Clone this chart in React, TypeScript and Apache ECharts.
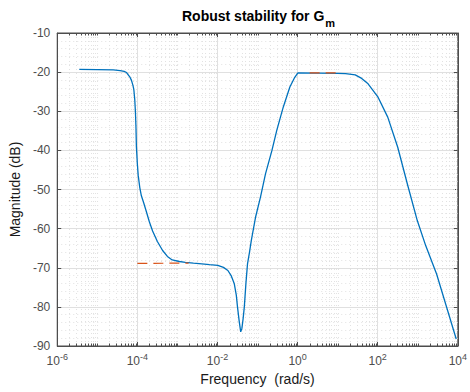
import React, { useEffect, useRef } from 'react';
import * as echarts from 'echarts';

// Frequency (rad/s) and magnitude (dB) of the robust-stability curve
const freq = [
  3.55e-6, 1e-5, 2.51e-5, 3.72e-5, 4.68e-5, 5.37e-5, 6.46e-5, 7.13e-5, 7.76e-5, 8.17e-5,
  8.61e-5, 8.95e-5, 9.23e-5, 9.46e-5, 1.0e-4, 1.05e-4, 1.15e-4, 1.26e-4, 1.45e-4, 1.66e-4,
  2.0e-4, 2.4e-4, 3.16e-4, 4.27e-4, 5.62e-4, 7.41e-4, 1.12e-3, 1.58e-3, 2.51e-3, 4.07e-3,
  6.31e-3, 1.02e-2, 1.41e-2, 1.82e-2, 2.19e-2, 2.63e-2, 2.95e-2, 3.16e-2, 3.47e-2, 3.8e-2,
  4.07e-2, 4.37e-2, 4.68e-2, 5.13e-2, 5.62e-2, 6.31e-2, 7.0e-2, 8.91e-2, 0.118, 0.158,
  0.229, 0.302, 0.44, 0.641, 0.832, 1.02, 3.16, 10, 15.8, 27.5,
  39.8, 57.5, 102, 178, 316, 550, 977, 1585, 2951, 9120,
];
const magDb = [
  -19.3, -19.35, -19.45, -19.6, -19.8, -20.1, -21.2, -22.1, -23.4, -24.5,
  -27, -30.2, -34, -39, -43.5, -46.4, -49.5, -51.6, -53.5, -55.5,
  -58.3, -60.6, -63.3, -65.6, -67.1, -68.0, -68.4, -68.6, -68.8, -69.0,
  -69.2, -69.4, -69.9, -70.7, -72.0, -74.1, -77, -80, -83.5, -86.4,
  -85.5, -83, -80, -74, -69, -66, -63, -57.1, -52, -46,
  -40, -34.9, -28.9, -23.8, -21.5, -20.2, -20.25, -20.3, -20.4, -20.7,
  -21.6, -23, -26.4, -31.5, -39.2, -48.6, -58, -64.4, -71.6, -88.2,
];
// Dashed bound (mostly hidden under the curve)
const boundLowFreq = [1e-4, 1.9e-3];
const boundLowDb = [-68.9, -68.8];
const boundHighFreq = [2.0, 10.7];
const boundHighDb = [-20.2, -20.2];

const xMin = 1e-6;
const xMax = 1e4;
const yMin = -90;
const yMax = -10;
const yStep = 10;

const titleMain = 'Robust stability for G';
const titleSub = 'm';
const xName = 'Frequency  (rad/s)';
const yName = 'Magnitude (dB)';

const FONT = '"Liberation Sans", Arial, Helvetica, sans-serif';
const AXIS = '#4d4d4d';
const GRID = '#e0e0e0';
const MINOR = '#e2e2e2';
const BLUE = '#0072BD';
const ORANGE = '#D95319';

// minor x-grid positions: 2..9 x 10^k plus odd decades (labels only every 2 decades)
const minorX: number[] = [];
for (let k = -6; k < 4; k++) {
  for (let m = 1; m <= 9; m++) {
    if (m === 1 && k % 2 === 0) continue;
    minorX.push(m * Math.pow(10, k));
  }
}

export default function App() {
  const ref = useRef<HTMLDivElement>(null);
  useEffect(() => {
    document.body.style.margin = '0';
    const chart = echarts.init(ref.current!, undefined, { renderer: 'svg' });
    const pairs = (xs: number[], ys: number[]) => xs.map((x, i) => [x, ys[i]]);
    const xLabel = (v: number) => {
      const e = Math.round(Math.log10(v));
      return `{b|10}{s|${e}}`;
    };
    const xAxisBase = {
      type: 'log' as const,
      logBase: 10,
      min: xMin,
      max: xMax,
      interval: 2,
    };
    chart.setOption({
      animation: false,
      textStyle: { fontFamily: FONT },
      title: {
        text: `{a|${titleMain}}{b|${titleSub}}`,
        left: 177,
        top: 4,
        textStyle: {
          rich: {
            a: { fontSize: 14, fontWeight: 'bold', color: '#000', fontFamily: FONT, verticalAlign: 'top' },
            b: { fontSize: 11, fontWeight: 'bold', color: '#000', fontFamily: FONT, verticalAlign: 'top', padding: [8, 0, 0, 1] },
          },
        },
      },
      grid: { left: 52, right: 8, top: 33, bottom: 46, show: true, borderColor: AXIS, borderWidth: 1, backgroundColor: '#fff' },
      xAxis: [
        {
          ...xAxisBase,
          position: 'bottom',
          name: xName,
          nameLocation: 'middle',
          nameGap: 19,
          nameTextStyle: { fontSize: 14, color: '#1a1a1a', fontFamily: FONT, verticalAlign: 'top' },
          axisLine: { show: true, lineStyle: { color: AXIS } },
          axisTick: { show: true, inside: true, length: 4, lineStyle: { color: AXIS } },
          axisLabel: {
            margin: 6,
            formatter: xLabel,
            rich: {
              b: { fontSize: 12, color: AXIS, fontFamily: FONT, verticalAlign: 'bottom' },
              s: { fontSize: 9, color: AXIS, fontFamily: FONT, verticalAlign: 'bottom', padding: [0, 0, 6, 0] },
            },
          },
          splitLine: { show: true, lineStyle: { color: GRID, width: 1 } },
        },
        {
          ...xAxisBase,
          position: 'top',
          axisLine: { show: true, lineStyle: { color: AXIS } },
          axisTick: { show: true, inside: true, length: 4, lineStyle: { color: AXIS } },
          axisLabel: { show: false },
          splitLine: { show: false },
        },
      ],
      yAxis: [
        {
          type: 'value',
          min: yMin,
          max: yMax,
          interval: yStep,
          position: 'left',
          name: yName,
          nameLocation: 'middle',
          nameGap: 30,
          nameTextStyle: { fontSize: 14, color: '#1a1a1a', fontFamily: FONT },
          axisLine: { show: true, lineStyle: { color: AXIS } },
          axisTick: { show: true, inside: true, length: 4, lineStyle: { color: AXIS } },
          axisLabel: { fontSize: 12, color: AXIS, margin: 7, fontFamily: FONT },
          splitLine: { show: true, lineStyle: { color: GRID, width: 1 } },
          minorTick: { show: false, splitNumber: 5 },
          minorSplitLine: { show: true, lineStyle: { color: MINOR, type: [1, 3], width: 1 } },
        },
        {
          type: 'value',
          min: yMin,
          max: yMax,
          interval: yStep,
          position: 'right',
          axisLine: { show: true, lineStyle: { color: AXIS } },
          axisTick: { show: true, inside: true, length: 4, lineStyle: { color: AXIS } },
          axisLabel: { show: false },
          splitLine: { show: false },
        },
      ],
      series: [
        {
          type: 'custom',
          xAxisIndex: 0,
          yAxisIndex: 0,
          silent: true,
          clip: false,
          z: 1,
          data: minorX.map((v) => [v, (yMin + yMax) / 2]),
          encode: { x: 0, y: 1 },
          renderItem: (params: any, api: any) => {
            const v = api.value(0);
            const top = api.coord([v, yMax]);
            const bot = api.coord([v, yMin]);
            const x = Math.round(top[0]) + 0.5;
            return {
              type: 'group',
              children: [
                {
                  type: 'line',
                  shape: { x1: x, y1: top[1], x2: x, y2: bot[1] },
                  style: { stroke: MINOR, lineWidth: 1, lineDash: [1, 3] },
                },
                {
                  type: 'line',
                  shape: { x1: x, y1: bot[1], x2: x, y2: bot[1] - 2.5 },
                  style: { stroke: AXIS, lineWidth: 1 },
                },
                {
                  type: 'line',
                  shape: { x1: x, y1: top[1], x2: x, y2: top[1] + 2.5 },
                  style: { stroke: AXIS, lineWidth: 1 },
                },
              ],
            };
          },
        },
        {
          type: 'line',
          xAxisIndex: 0,
          yAxisIndex: 0,
          data: pairs(freq, magDb),
          showSymbol: false,
          symbol: 'none',
          smooth: false,
          lineStyle: { color: BLUE, width: 1.3 },
          z: 3,
        },
        {
          type: 'line',
          xAxisIndex: 0,
          yAxisIndex: 0,
          data: pairs(boundLowFreq, boundLowDb),
          symbol: 'none',
          lineStyle: { color: ORANGE, width: 1.2, type: [10, 6] },
          z: 4,
        },
        {
          type: 'line',
          xAxisIndex: 0,
          yAxisIndex: 0,
          data: pairs(boundHighFreq, boundHighDb),
          symbol: 'none',
          lineStyle: { color: ORANGE, width: 1.2, type: [10, 6] },
          z: 4,
        },
      ],
    });
    return () => chart.dispose();
  }, []);
  return <div ref={ref} style={{ width: 470, height: 392 }} />;
}
